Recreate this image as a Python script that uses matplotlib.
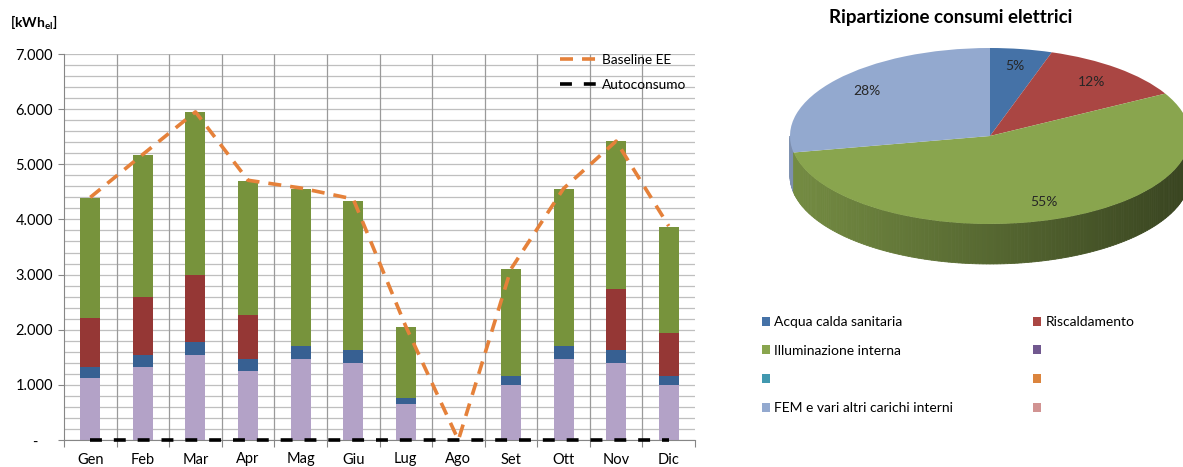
import numpy as np
import matplotlib.pyplot as plt
from matplotlib.patches import Patch, Polygon
from matplotlib.ticker import MultipleLocator, FuncFormatter
import matplotlib.colors as mcolors

plt.rcParams['font.family'] = ['Lato', 'DejaVu Sans']
plt.rcParams['mathtext.fontset'] = 'custom'
plt.rcParams['mathtext.rm'] = 'Lato'
plt.rcParams['mathtext.bf'] = 'Lato:bold'

# monthly data (kWh el)
months = ["Gen", "Feb", "Mar", "Apr", "Mag", "Giu", "Lug", "Ago", "Set", "Ott", "Nov", "Dic"]
fem = [1130, 1330, 1540, 1260, 1465, 1400, 660, 0, 990, 1460, 1400, 990]
acs = [190, 220, 245, 210, 240, 230, 110, 0, 170, 245, 235, 170]
risc = [890, 1050, 1205, 790, 0, 0, 0, 0, 0, 0, 1095, 780]
illum = [2180, 2570, 2950, 2440, 2845, 2710, 1280, 0, 1935, 2840, 2695, 1930]
baseline = [4400, 5180, 5950, 4710, 4570, 4370, 2060, 0, 3100, 4560, 5420, 3880]
autoconsumo = [0] * 12

# pie data
pie_labels = ["Acqua calda sanitaria", "Riscaldamento", "Illuminazione interna", "", "", "",
              "FEM e vari altri carichi interni", ""]
pie_values = [5, 12, 55, 0, 0, 0, 28, 0]
pie_colors = ['#4572A7', '#AA4643', '#89A54E', '#71588F', '#4198AF', '#DB843D', '#93A9CF', '#D19392']

W, H = 1183, 467
fig = plt.figure(figsize=(W / 100, H / 100), dpi=100)

# ---- stacked bars ----
ax = fig.add_axes([64 / W, 1 - 440 / H, (695 - 64) / W, (440 - 54) / H])
x = np.arange(len(months))
bottom = np.zeros(len(months))
for vals, col in [(fem, '#B3A2C7'), (acs, '#376092'), (risc, '#953735'), (illum, '#77933C')]:
    ax.bar(x, vals, 0.38, bottom=bottom, color=col, zorder=2)
    bottom += np.array(vals)

ax.plot(x, baseline, color='#E5813A', lw=2.6, ls=(0, (3.6, 2.5)), zorder=3, label='Baseline EE')
ax.plot(x, autoconsumo, color='black', lw=2.6, ls=(0, (3.3, 3.3)), zorder=4,
        label='Autoconsumo', clip_on=False)

ax.set_xlim(-0.5, 11.5)
ax.set_ylim(0, 7000)
ax.yaxis.set_major_locator(MultipleLocator(1000))
ax.yaxis.set_minor_locator(MultipleLocator(200))
ax.yaxis.set_major_formatter(FuncFormatter(
    lambda v, p: '-    ' if v == 0 else f'{int(v):,}'.replace(',', '.')))
ax.grid(which='both', axis='y', color='#BFBFBF', lw=0.9, zorder=0)
ax.vlines(np.arange(0.5, 11, 1), 0, 7000, color='#9A9A9A', lw=0.9, zorder=1)
ax.set_axisbelow(True)

ax.set_xticks(np.arange(-0.5, 12, 1))
ax.set_xticklabels([])
ax.set_xticks(x, minor=True)
ax.set_xticklabels(months, minor=True)
ax.tick_params(axis='x', which='major', length=5, color='#868686')
ax.tick_params(axis='x', which='minor', length=0, labelsize=10.5, pad=9)
ax.tick_params(axis='y', which='major', length=4, color='#868686', labelsize=10.5, pad=4)
ax.tick_params(axis='y', which='minor', length=0)
for s in ['top', 'right']:
    ax.spines[s].set_visible(False)
for s in ['left', 'bottom']:
    ax.spines[s].set_color('#868686')

fig.text(10 / W, 1 - 23 / H, r'[kWh$_{\mathbf{el}}$]', fontsize=10, fontweight='bold', va='center')

ax.legend(loc='upper left', bbox_to_anchor=(560 / W, 1 - 54 / H), bbox_transform=fig.transFigure,
          frameon=False, fontsize=9.8, handlelength=2.8, handletextpad=0.25,
          borderpad=0, borderaxespad=0, labelspacing=0.95)

# ---- pie ----
cx, cy, rx, ry, depth = 990, 136, 200, 88, 40
pax = fig.add_axes([780 / W, 1 - 290 / H, 420 / W, 250 / H])
pax.pie(pie_values, colors=pie_colors, startangle=90, counterclock=False, radius=1,
        wedgeprops=dict(linewidth=0), pctdistance=0.8,
        autopct=lambda p: f'{p:.0f}%' if p > 0 else '',
        textprops=dict(fontsize=10, color='#262626'))
pax.set_aspect('auto')
pax.set_xlim((780 - cx) / rx, (1200 - cx) / rx)
pax.set_ylim(-(290 - cy) / ry, (cy - 40) / ry)
pax.axis('off')

# side wall of the 3D pie, shaded left to right
cum = np.cumsum(pie_values) / np.sum(pie_values)
d = depth / ry
ts = np.linspace(np.pi, 2 * np.pi, 181)
for t0, t1 in zip(ts[:-1], ts[1:]):
    tm = 0.5 * (t0 + t1)
    frac = ((np.pi / 2 - tm) % (2 * np.pi)) / (2 * np.pi)
    idx = min(np.searchsorted(cum, frac), len(cum) - 1)
    f = 0.63 - 0.22 * np.cos(tm)
    rgb = np.array(mcolors.to_rgb(pie_colors[idx])) * f
    pts = [(np.cos(t0), np.sin(t0)), (np.cos(t1), np.sin(t1)),
           (np.cos(t1), np.sin(t1) - d), (np.cos(t0), np.sin(t0) - d)]
    pax.add_patch(Polygon(pts, closed=True, facecolor=rgb, edgecolor=rgb, lw=0.6, zorder=0.5))

fig.text(951 / W, 1 - 17 / H, 'Ripartizione consumi elettrici', fontsize=13.5, fontweight='bold',
         ha='center', va='center')

# pie legend in two columns (row-wise order like the original)
handles = [Patch(facecolor=c, edgecolor='none') for c in pie_colors]
for col, x0 in [(0, 762), (1, 1033)]:
    idxs = [i for i in range(len(pie_labels)) if i % 2 == col]
    fig.legend([handles[i] for i in idxs], [pie_labels[i] for i in idxs],
               loc='upper left', bbox_to_anchor=(x0 / W, 1 - 316 / H),
               frameon=False, fontsize=10, handlelength=0.6, handleheight=0.6,
               handletextpad=0.3, borderpad=0, borderaxespad=0, labelspacing=1.2)

fig.savefig('out.png', dpi=100)
